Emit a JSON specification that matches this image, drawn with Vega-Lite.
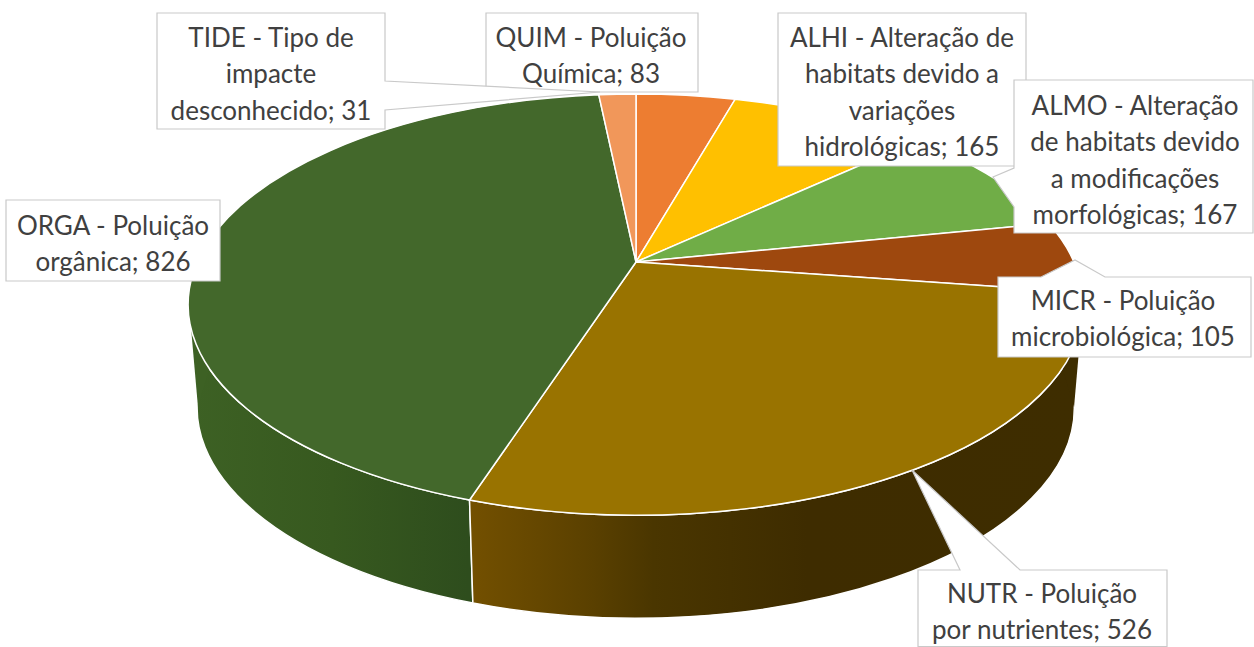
{
 "$schema":"https://vega.github.io/schema/vega-lite/v6.json",
 "width":1254,"height":647,"padding":0,"autosize":"none","background":"#ffffff",
 "config":{"view":{"stroke":null}},
 "data":{"values":[
  {"n":1,"cat":"QUIM","value":83,"label":"QUIM - Poluição\nQuímica; 83"},
  {"n":2,"cat":"ALHI","value":165,"label":"ALHI - Alteração de\nhabitats devido a\nvariações\nhidrológicas; 165"},
  {"n":3,"cat":"ALMO","value":167,"label":"ALMO - Alteração\nde habitats devido\na modificações\nmorfológicas; 167"},
  {"n":4,"cat":"MICR","value":105,"label":"MICR - Poluição\nmicrobiológica; 105"},
  {"n":5,"cat":"NUTR","value":526,"label":"NUTR - Poluição\npor nutrientes; 526"},
  {"n":6,"cat":"ORGA","value":826,"label":"ORGA - Poluição\norgânica; 826"},
  {"n":7,"cat":"TIDE","value":31,"label":"TIDE - Tipo de\nimpacte\ndesconhecido; 31"}
 ]},
 "transform":[{"stack":"value","groupby":[],"sort":[{"field":"n","order":"ascending"}],"offset":"normalize","as":["a0","a1"]}],
 "layer":[
  {"transform":[{"filter":"datum.cat!='NUTR'&&datum.cat!='ORGA'"}],
   "mark":{"type":"point","filled":true,"opacity":1,"size":4,"stroke":"#ffffff","strokeWidth":1.5,
    "fill":{"expr":"{'QUIM':'#8a4a1d','ALHI':'#8f6c00','ALMO':'#41662a','MICR':'#5c2a08','TIDE':'#8c5935'}[datum.cat]"},
    "shape":{"expr":"'M'+round(100*(9+438*sin(2*PI*datum.a0)/(1+0.202*cos(2*PI*datum.a0))))/100+' '+round(100*(-61.5-202*cos(2*PI*datum.a0)/(1+0.202*cos(2*PI*datum.a0))))/100+'A447 210.5 0 0 1 '+round(100*(9+438*sin(2*PI*datum.a1)/(1+0.202*cos(2*PI*datum.a1))))/100+' '+round(100*(-61.5-202*cos(2*PI*datum.a1)/(1+0.202*cos(2*PI*datum.a1))))/100+'L'+round(100*(9+0.98*438*sin(2*PI*datum.a1)/(1+0.202*cos(2*PI*datum.a1))))/100+' '+round(100*(41.5-202*cos(2*PI*datum.a1)/(1+0.202*cos(2*PI*datum.a1))))/100+'A438 210.5 0 0 0 '+round(100*(9+0.98*438*sin(2*PI*datum.a0)/(1+0.202*cos(2*PI*datum.a0))))/100+' '+round(100*(41.5-202*cos(2*PI*datum.a0)/(1+0.202*cos(2*PI*datum.a0))))/100+'Z'"}},
   "encoding":{}},
  {"transform":[{"filter":"datum.cat=='ORGA'"}],
   "mark":{"type":"point","filled":true,"opacity":1,"size":4,"stroke":"#ffffff","strokeWidth":1.5,
    "fill":{"gradient":"linear","x1":0,"y1":0,"x2":1,"y2":0,"stops":[{"offset":0,"color":"#3d6124"},{"offset":0.35,"color":"#37591f"},{"offset":0.68,"color":"#2e4d1d"},{"offset":1,"color":"#2e4d1d"}]},
    "shape":{"expr":"'M'+round(100*(9+438*sin(2*PI*datum.a0)/(1+0.202*cos(2*PI*datum.a0))))/100+' '+round(100*(-61.5-202*cos(2*PI*datum.a0)/(1+0.202*cos(2*PI*datum.a0))))/100+'A447 210.5 0 0 1 '+round(100*(9+438*sin(2*PI*datum.a1)/(1+0.202*cos(2*PI*datum.a1))))/100+' '+round(100*(-61.5-202*cos(2*PI*datum.a1)/(1+0.202*cos(2*PI*datum.a1))))/100+'L'+round(100*(9+0.98*438*sin(2*PI*datum.a1)/(1+0.202*cos(2*PI*datum.a1))))/100+' '+round(100*(41.5-202*cos(2*PI*datum.a1)/(1+0.202*cos(2*PI*datum.a1))))/100+'A438 210.5 0 0 0 '+round(100*(9+0.98*438*sin(2*PI*datum.a0)/(1+0.202*cos(2*PI*datum.a0))))/100+' '+round(100*(41.5-202*cos(2*PI*datum.a0)/(1+0.202*cos(2*PI*datum.a0))))/100+'Z'"}},
   "encoding":{}},
  {"transform":[{"filter":"datum.cat=='NUTR'"}],
   "mark":{"type":"point","filled":true,"opacity":1,"size":4,"stroke":"#ffffff","strokeWidth":1.5,
    "fill":{"gradient":"linear","x1":0,"y1":0,"x2":1,"y2":0,"stops":[{"offset":0,"color":"#735000"},{"offset":0.2,"color":"#5a4000"},{"offset":0.3,"color":"#4a3600"},{"offset":0.55,"color":"#3e2c00"},{"offset":1,"color":"#3e2d00"}]},
    "shape":{"expr":"'M'+round(100*(9+438*sin(2*PI*datum.a0)/(1+0.202*cos(2*PI*datum.a0))))/100+' '+round(100*(-61.5-202*cos(2*PI*datum.a0)/(1+0.202*cos(2*PI*datum.a0))))/100+'A447 210.5 0 0 1 '+round(100*(9+438*sin(2*PI*datum.a1)/(1+0.202*cos(2*PI*datum.a1))))/100+' '+round(100*(-61.5-202*cos(2*PI*datum.a1)/(1+0.202*cos(2*PI*datum.a1))))/100+'L'+round(100*(9+0.98*438*sin(2*PI*datum.a1)/(1+0.202*cos(2*PI*datum.a1))))/100+' '+round(100*(41.5-202*cos(2*PI*datum.a1)/(1+0.202*cos(2*PI*datum.a1))))/100+'A438 210.5 0 0 0 '+round(100*(9+0.98*438*sin(2*PI*datum.a0)/(1+0.202*cos(2*PI*datum.a0))))/100+' '+round(100*(41.5-202*cos(2*PI*datum.a0)/(1+0.202*cos(2*PI*datum.a0))))/100+'Z'"}},
   "encoding":{}},
  {"transform":[{"filter":"datum.cat=='NUTR'||datum.cat=='ORGA'"}],
   "mark":{"type":"point","filled":true,"opacity":1,"size":4,"strokeWidth":0,
    "fill":{"expr":"{'NUTR':'#3e2d00','ORGA':'#3d6124'}[datum.cat]"},
    "shape":{"expr":"{'NUTR':'M456 -19L447 84L433 36Z','ORGA':'M-438 -19L-429 84L-415 36Z'}[datum.cat]"}},
   "encoding":{}},
  {"mark":{"type":"point","filled":true,"opacity":1,"size":4,"stroke":"#ffffff","strokeWidth":1.5,
    "shape":{"expr":"'M9 -61.5L'+round(100*(9+438*sin(2*PI*datum.a0)/(1+0.202*cos(2*PI*datum.a0))))/100+' '+round(100*(-61.5-202*cos(2*PI*datum.a0)/(1+0.202*cos(2*PI*datum.a0))))/100+'A447 210.5 0 0 1 '+round(100*(9+438*sin(2*PI*datum.a1)/(1+0.202*cos(2*PI*datum.a1))))/100+' '+round(100*(-61.5-202*cos(2*PI*datum.a1)/(1+0.202*cos(2*PI*datum.a1))))/100+'Z'"}},
   "encoding":{"fill":{"field":"cat","type":"nominal","legend":null,"sort":null,
     "scale":{"domain":["QUIM","ALHI","ALMO","MICR","NUTR","ORGA","TIDE"],"range":["#ed7d31","#ffc000","#70ad47","#9e480e","#997300","#43682b","#f1975a"]}}}},
  {"mark":{"type":"point","filled":true,"opacity":1,"size":4,"fill":"#ffffff","stroke":"#c9c9c9","strokeWidth":1.2,
    "shape":{"expr":"{'QUIM':'M-141 -310.5L71 -310.5L71 -231.5L-141 -231.5Z','ALHI':'M151 -310.5L399 -310.5L399 -157.5L151 -157.5Z','ALMO':'M387 -243.5L626 -243.5L626 -90.5L387 -90.5L387 -116.5L366 -146.5L387 -155.5Z','MICR':'M371 -46.5L414 -46.5L448 -63.5L478 -46.5L624 -46.5L624 33.5L371 33.5Z','NUTR':'M291 246.5L333 246.5L285 146.5L393 246.5L540 246.5L540 323L291 323Z','ORGA':'M-621 -123.5L-407 -123.5L-407 -42.5L-621 -42.5Z','TIDE':'M-470 -310.5L-242 -310.5L-242 -242.5L-27 -231.5L-242 -213.5L-242 -194.5L-470 -194.5Z'}[datum.cat]"}},
   "encoding":{}},
  {"mark":{"type":"text","font":"Lato","fontSize":26,"fill":"#404040","align":"center","baseline":"middle","lineBreak":"\n","lineHeight":36.5,
    "dx":{"expr":"{'QUIM':-36,'ALHI':275,'ALMO':508,'MICR':496,'NUTR':415,'ORGA':-514,'TIDE':-356}[datum.cat]"},
    "dy":{"expr":"{'QUIM':-285,'ALHI':-285,'ALMO':-217,'MICR':-22,'NUTR':271,'ORGA':-97,'TIDE':-285}[datum.cat]"}},
   "encoding":{"text":{"field":"label","type":"nominal"}}}
 ]
}
